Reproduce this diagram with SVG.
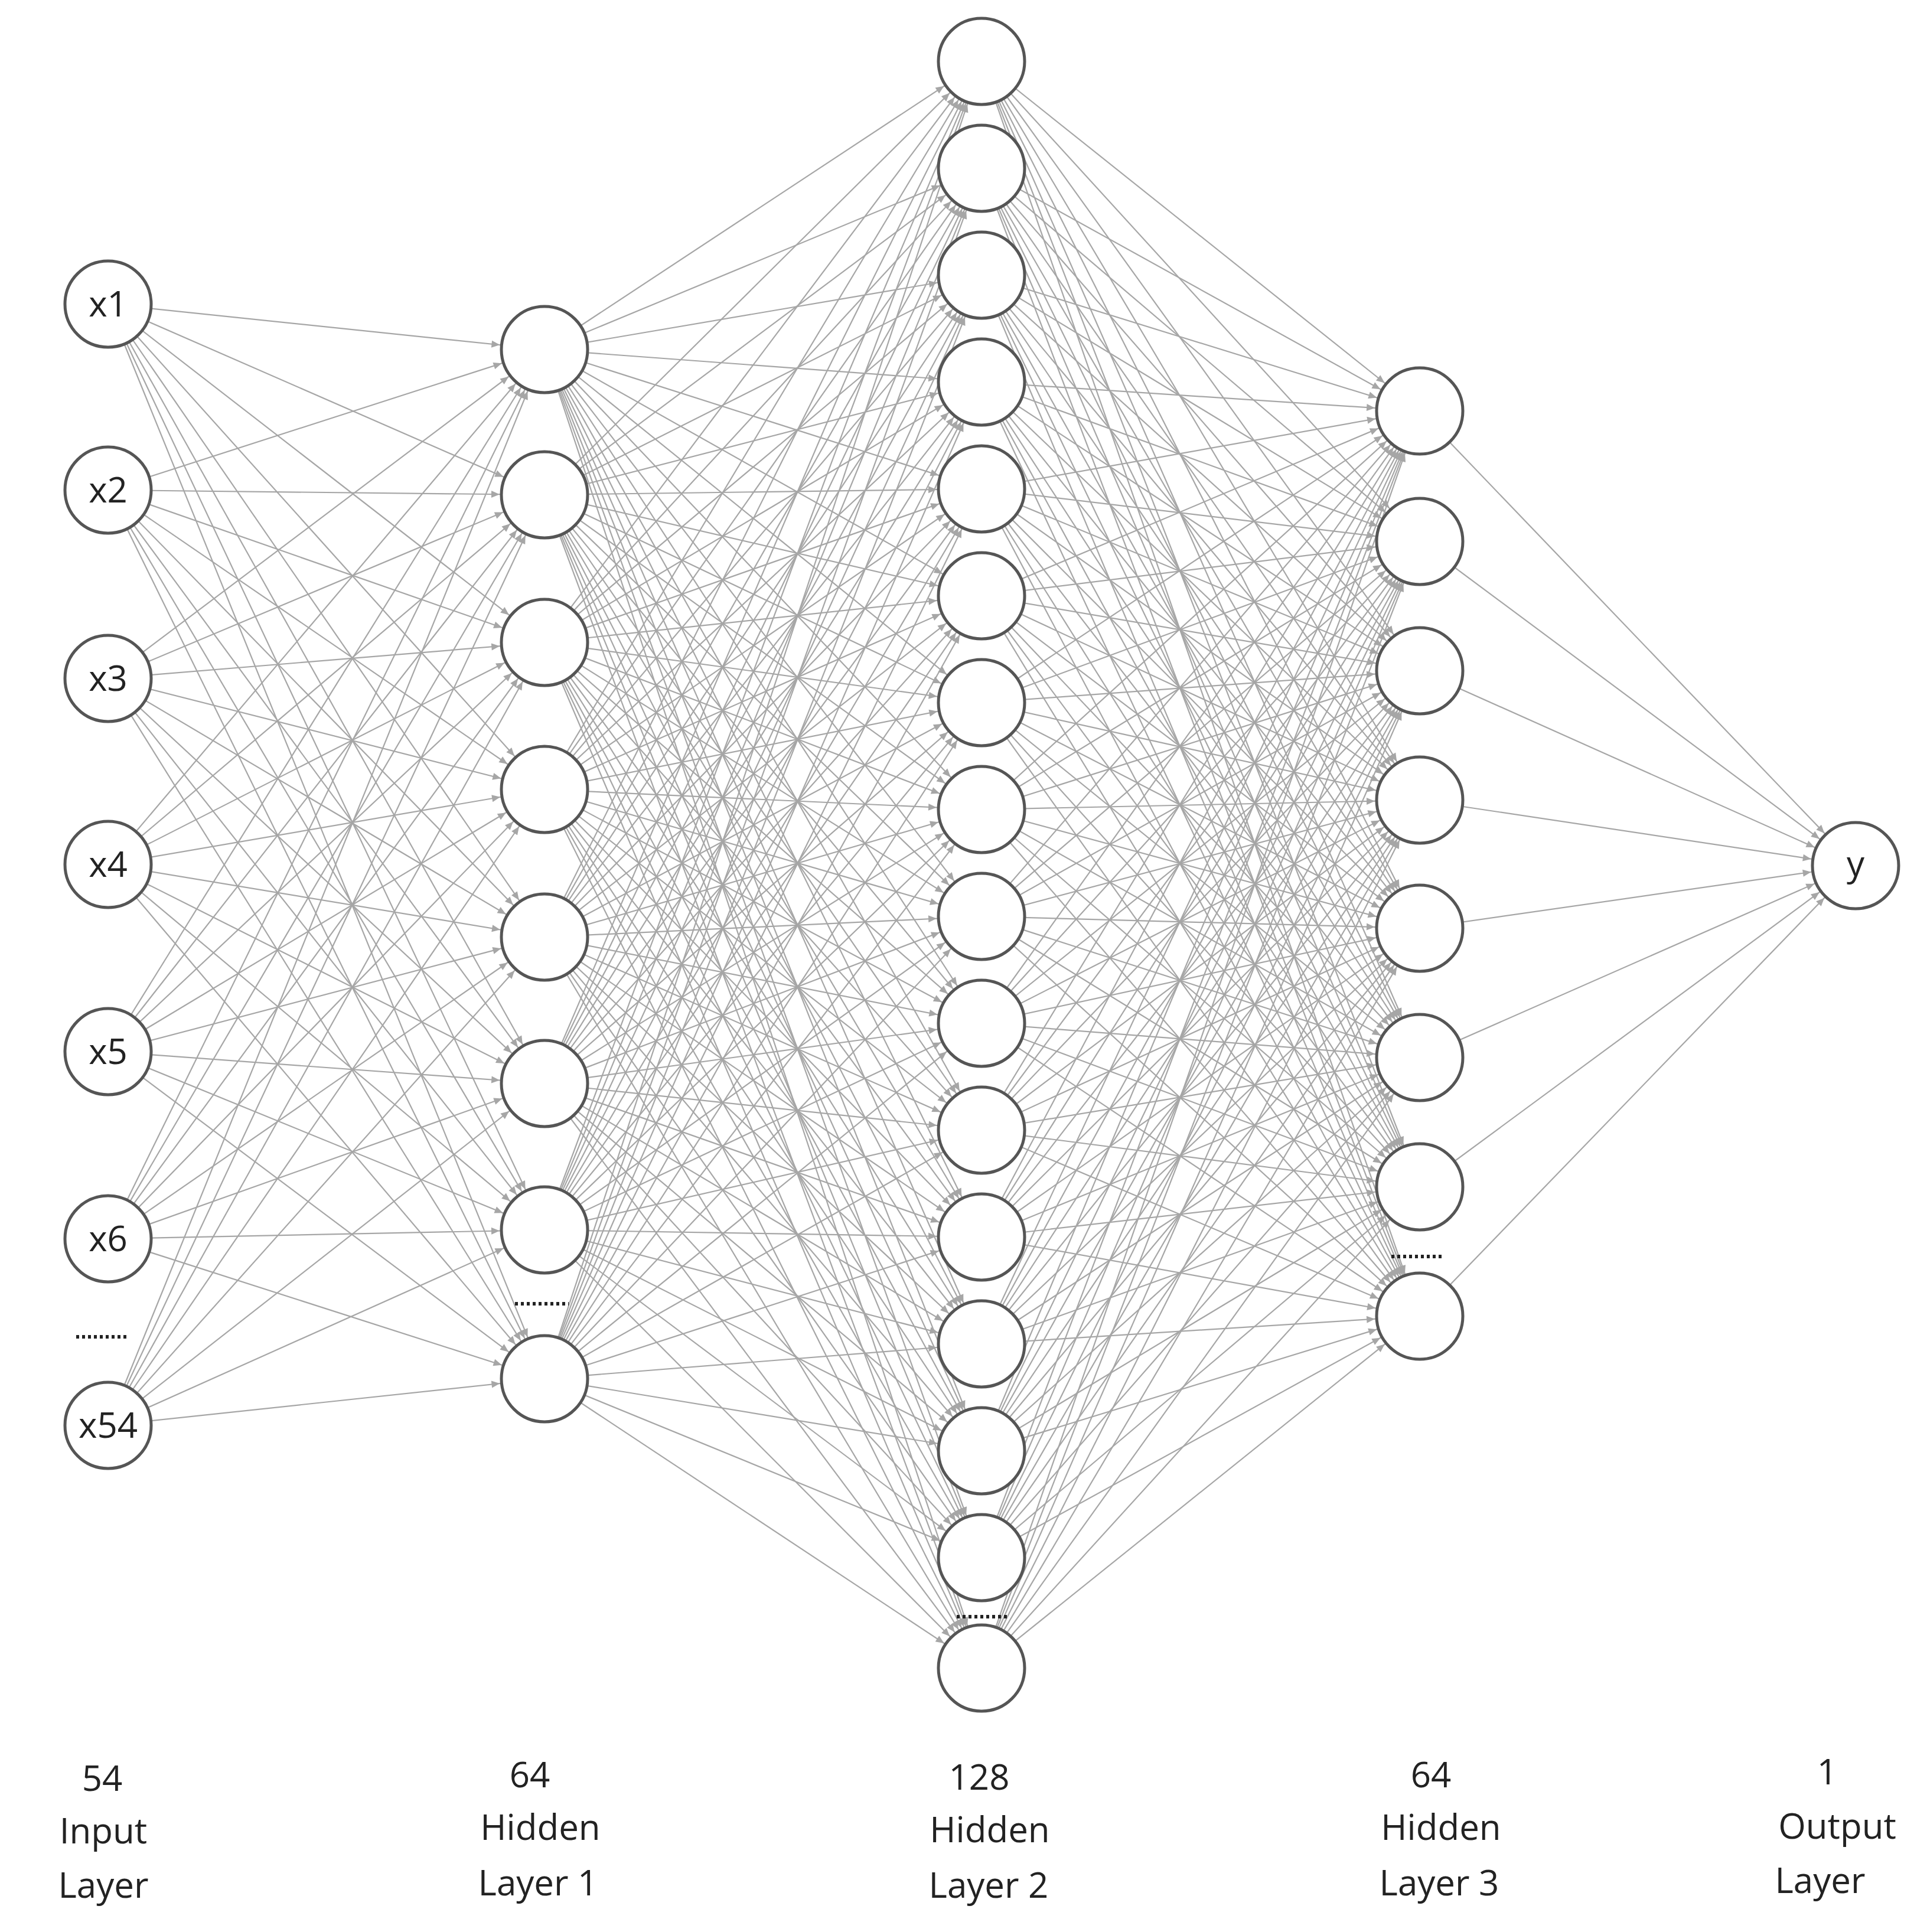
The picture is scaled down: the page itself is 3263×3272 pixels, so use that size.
<svg xmlns="http://www.w3.org/2000/svg" width="3263" height="3272" viewBox="0 0 3263 3272">
<style>
#connectors line{stroke:#a6a6a6;stroke-width:2.2;marker-end:url(#arr)}
.n{fill:#fff;stroke:#555;stroke-width:5}
.t{font-family:"Open Sans","Liberation Sans",sans-serif;font-size:60px;fill:#222;text-anchor:middle}
.dots{stroke:#222;stroke-width:6;stroke-dasharray:5 5}
</style>
<defs>
<marker id="arr" markerUnits="userSpaceOnUse" viewBox="-100 -10 120 20" refX="0" refY="0" markerWidth="120" markerHeight="20" orient="auto" overflow="visible">
<path d="M-90,-6 L-76,0 L-90,6 Z" fill="#a6a6a6"/>
</marker>
</defs>
<rect width="3263" height="3272" fill="#fff"/>
<g id="connectors">
<line x1="183" y1="515" x2="922" y2="592"/><line x1="183" y1="515" x2="922" y2="838"/><line x1="183" y1="515" x2="922" y2="1088"/><line x1="183" y1="515" x2="922" y2="1337"/><line x1="183" y1="515" x2="922" y2="1587"/><line x1="183" y1="515" x2="922" y2="1835"/><line x1="183" y1="515" x2="922" y2="2083"/><line x1="183" y1="515" x2="922" y2="2335"/>
<line x1="183" y1="830" x2="922" y2="592"/><line x1="183" y1="830" x2="922" y2="838"/><line x1="183" y1="830" x2="922" y2="1088"/><line x1="183" y1="830" x2="922" y2="1337"/><line x1="183" y1="830" x2="922" y2="1587"/><line x1="183" y1="830" x2="922" y2="1835"/><line x1="183" y1="830" x2="922" y2="2083"/><line x1="183" y1="830" x2="922" y2="2335"/>
<line x1="183" y1="1149" x2="922" y2="592"/><line x1="183" y1="1149" x2="922" y2="838"/><line x1="183" y1="1149" x2="922" y2="1088"/><line x1="183" y1="1149" x2="922" y2="1337"/><line x1="183" y1="1149" x2="922" y2="1587"/><line x1="183" y1="1149" x2="922" y2="1835"/><line x1="183" y1="1149" x2="922" y2="2083"/><line x1="183" y1="1149" x2="922" y2="2335"/>
<line x1="183" y1="1464" x2="922" y2="592"/><line x1="183" y1="1464" x2="922" y2="838"/><line x1="183" y1="1464" x2="922" y2="1088"/><line x1="183" y1="1464" x2="922" y2="1337"/><line x1="183" y1="1464" x2="922" y2="1587"/><line x1="183" y1="1464" x2="922" y2="1835"/><line x1="183" y1="1464" x2="922" y2="2083"/><line x1="183" y1="1464" x2="922" y2="2335"/>
<line x1="183" y1="1781" x2="922" y2="592"/><line x1="183" y1="1781" x2="922" y2="838"/><line x1="183" y1="1781" x2="922" y2="1088"/><line x1="183" y1="1781" x2="922" y2="1337"/><line x1="183" y1="1781" x2="922" y2="1587"/><line x1="183" y1="1781" x2="922" y2="1835"/><line x1="183" y1="1781" x2="922" y2="2083"/><line x1="183" y1="1781" x2="922" y2="2335"/>
<line x1="183" y1="2098" x2="922" y2="592"/><line x1="183" y1="2098" x2="922" y2="838"/><line x1="183" y1="2098" x2="922" y2="1088"/><line x1="183" y1="2098" x2="922" y2="1337"/><line x1="183" y1="2098" x2="922" y2="1587"/><line x1="183" y1="2098" x2="922" y2="1835"/><line x1="183" y1="2098" x2="922" y2="2083"/><line x1="183" y1="2098" x2="922" y2="2335"/>
<line x1="183" y1="2414" x2="922" y2="592"/><line x1="183" y1="2414" x2="922" y2="838"/><line x1="183" y1="2414" x2="922" y2="1088"/><line x1="183" y1="2414" x2="922" y2="1337"/><line x1="183" y1="2414" x2="922" y2="1587"/><line x1="183" y1="2414" x2="922" y2="1835"/><line x1="183" y1="2414" x2="922" y2="2083"/><line x1="183" y1="2414" x2="922" y2="2335"/>

<line x1="922" y1="592" x2="1662" y2="104"/><line x1="922" y1="592" x2="1662" y2="285"/><line x1="922" y1="592" x2="1662" y2="466"/><line x1="922" y1="592" x2="1662" y2="647"/><line x1="922" y1="592" x2="1662" y2="828"/><line x1="922" y1="592" x2="1662" y2="1009"/><line x1="922" y1="592" x2="1662" y2="1190"/><line x1="922" y1="592" x2="1662" y2="1371"/><line x1="922" y1="592" x2="1662" y2="1552"/><line x1="922" y1="592" x2="1662" y2="1733"/><line x1="922" y1="592" x2="1662" y2="1914"/><line x1="922" y1="592" x2="1662" y2="2095"/><line x1="922" y1="592" x2="1662" y2="2276"/><line x1="922" y1="592" x2="1662" y2="2457"/><line x1="922" y1="592" x2="1662" y2="2638"/><line x1="922" y1="592" x2="1662" y2="2825"/>
<line x1="922" y1="838" x2="1662" y2="104"/><line x1="922" y1="838" x2="1662" y2="285"/><line x1="922" y1="838" x2="1662" y2="466"/><line x1="922" y1="838" x2="1662" y2="647"/><line x1="922" y1="838" x2="1662" y2="828"/><line x1="922" y1="838" x2="1662" y2="1009"/><line x1="922" y1="838" x2="1662" y2="1190"/><line x1="922" y1="838" x2="1662" y2="1371"/><line x1="922" y1="838" x2="1662" y2="1552"/><line x1="922" y1="838" x2="1662" y2="1733"/><line x1="922" y1="838" x2="1662" y2="1914"/><line x1="922" y1="838" x2="1662" y2="2095"/><line x1="922" y1="838" x2="1662" y2="2276"/><line x1="922" y1="838" x2="1662" y2="2457"/><line x1="922" y1="838" x2="1662" y2="2638"/><line x1="922" y1="838" x2="1662" y2="2825"/>
<line x1="922" y1="1088" x2="1662" y2="104"/><line x1="922" y1="1088" x2="1662" y2="285"/><line x1="922" y1="1088" x2="1662" y2="466"/><line x1="922" y1="1088" x2="1662" y2="647"/><line x1="922" y1="1088" x2="1662" y2="828"/><line x1="922" y1="1088" x2="1662" y2="1009"/><line x1="922" y1="1088" x2="1662" y2="1190"/><line x1="922" y1="1088" x2="1662" y2="1371"/><line x1="922" y1="1088" x2="1662" y2="1552"/><line x1="922" y1="1088" x2="1662" y2="1733"/><line x1="922" y1="1088" x2="1662" y2="1914"/><line x1="922" y1="1088" x2="1662" y2="2095"/><line x1="922" y1="1088" x2="1662" y2="2276"/><line x1="922" y1="1088" x2="1662" y2="2457"/><line x1="922" y1="1088" x2="1662" y2="2638"/><line x1="922" y1="1088" x2="1662" y2="2825"/>
<line x1="922" y1="1337" x2="1662" y2="104"/><line x1="922" y1="1337" x2="1662" y2="285"/><line x1="922" y1="1337" x2="1662" y2="466"/><line x1="922" y1="1337" x2="1662" y2="647"/><line x1="922" y1="1337" x2="1662" y2="828"/><line x1="922" y1="1337" x2="1662" y2="1009"/><line x1="922" y1="1337" x2="1662" y2="1190"/><line x1="922" y1="1337" x2="1662" y2="1371"/><line x1="922" y1="1337" x2="1662" y2="1552"/><line x1="922" y1="1337" x2="1662" y2="1733"/><line x1="922" y1="1337" x2="1662" y2="1914"/><line x1="922" y1="1337" x2="1662" y2="2095"/><line x1="922" y1="1337" x2="1662" y2="2276"/><line x1="922" y1="1337" x2="1662" y2="2457"/><line x1="922" y1="1337" x2="1662" y2="2638"/><line x1="922" y1="1337" x2="1662" y2="2825"/>
<line x1="922" y1="1587" x2="1662" y2="104"/><line x1="922" y1="1587" x2="1662" y2="285"/><line x1="922" y1="1587" x2="1662" y2="466"/><line x1="922" y1="1587" x2="1662" y2="647"/><line x1="922" y1="1587" x2="1662" y2="828"/><line x1="922" y1="1587" x2="1662" y2="1009"/><line x1="922" y1="1587" x2="1662" y2="1190"/><line x1="922" y1="1587" x2="1662" y2="1371"/><line x1="922" y1="1587" x2="1662" y2="1552"/><line x1="922" y1="1587" x2="1662" y2="1733"/><line x1="922" y1="1587" x2="1662" y2="1914"/><line x1="922" y1="1587" x2="1662" y2="2095"/><line x1="922" y1="1587" x2="1662" y2="2276"/><line x1="922" y1="1587" x2="1662" y2="2457"/><line x1="922" y1="1587" x2="1662" y2="2638"/><line x1="922" y1="1587" x2="1662" y2="2825"/>
<line x1="922" y1="1835" x2="1662" y2="104"/><line x1="922" y1="1835" x2="1662" y2="285"/><line x1="922" y1="1835" x2="1662" y2="466"/><line x1="922" y1="1835" x2="1662" y2="647"/><line x1="922" y1="1835" x2="1662" y2="828"/><line x1="922" y1="1835" x2="1662" y2="1009"/><line x1="922" y1="1835" x2="1662" y2="1190"/><line x1="922" y1="1835" x2="1662" y2="1371"/><line x1="922" y1="1835" x2="1662" y2="1552"/><line x1="922" y1="1835" x2="1662" y2="1733"/><line x1="922" y1="1835" x2="1662" y2="1914"/><line x1="922" y1="1835" x2="1662" y2="2095"/><line x1="922" y1="1835" x2="1662" y2="2276"/><line x1="922" y1="1835" x2="1662" y2="2457"/><line x1="922" y1="1835" x2="1662" y2="2638"/><line x1="922" y1="1835" x2="1662" y2="2825"/>
<line x1="922" y1="2083" x2="1662" y2="104"/><line x1="922" y1="2083" x2="1662" y2="285"/><line x1="922" y1="2083" x2="1662" y2="466"/><line x1="922" y1="2083" x2="1662" y2="647"/><line x1="922" y1="2083" x2="1662" y2="828"/><line x1="922" y1="2083" x2="1662" y2="1009"/><line x1="922" y1="2083" x2="1662" y2="1190"/><line x1="922" y1="2083" x2="1662" y2="1371"/><line x1="922" y1="2083" x2="1662" y2="1552"/><line x1="922" y1="2083" x2="1662" y2="1733"/><line x1="922" y1="2083" x2="1662" y2="1914"/><line x1="922" y1="2083" x2="1662" y2="2095"/><line x1="922" y1="2083" x2="1662" y2="2276"/><line x1="922" y1="2083" x2="1662" y2="2457"/><line x1="922" y1="2083" x2="1662" y2="2638"/><line x1="922" y1="2083" x2="1662" y2="2825"/>
<line x1="922" y1="2335" x2="1662" y2="104"/><line x1="922" y1="2335" x2="1662" y2="285"/><line x1="922" y1="2335" x2="1662" y2="466"/><line x1="922" y1="2335" x2="1662" y2="647"/><line x1="922" y1="2335" x2="1662" y2="828"/><line x1="922" y1="2335" x2="1662" y2="1009"/><line x1="922" y1="2335" x2="1662" y2="1190"/><line x1="922" y1="2335" x2="1662" y2="1371"/><line x1="922" y1="2335" x2="1662" y2="1552"/><line x1="922" y1="2335" x2="1662" y2="1733"/><line x1="922" y1="2335" x2="1662" y2="1914"/><line x1="922" y1="2335" x2="1662" y2="2095"/><line x1="922" y1="2335" x2="1662" y2="2276"/><line x1="922" y1="2335" x2="1662" y2="2457"/><line x1="922" y1="2335" x2="1662" y2="2638"/><line x1="922" y1="2335" x2="1662" y2="2825"/>

<line x1="1662" y1="104" x2="2404" y2="696"/><line x1="1662" y1="104" x2="2404" y2="917"/><line x1="1662" y1="104" x2="2404" y2="1136"/><line x1="1662" y1="104" x2="2404" y2="1355"/><line x1="1662" y1="104" x2="2404" y2="1572"/><line x1="1662" y1="104" x2="2404" y2="1791"/><line x1="1662" y1="104" x2="2404" y2="2010"/><line x1="1662" y1="104" x2="2404" y2="2229"/>
<line x1="1662" y1="285" x2="2404" y2="696"/><line x1="1662" y1="285" x2="2404" y2="917"/><line x1="1662" y1="285" x2="2404" y2="1136"/><line x1="1662" y1="285" x2="2404" y2="1355"/><line x1="1662" y1="285" x2="2404" y2="1572"/><line x1="1662" y1="285" x2="2404" y2="1791"/><line x1="1662" y1="285" x2="2404" y2="2010"/><line x1="1662" y1="285" x2="2404" y2="2229"/>
<line x1="1662" y1="466" x2="2404" y2="696"/><line x1="1662" y1="466" x2="2404" y2="917"/><line x1="1662" y1="466" x2="2404" y2="1136"/><line x1="1662" y1="466" x2="2404" y2="1355"/><line x1="1662" y1="466" x2="2404" y2="1572"/><line x1="1662" y1="466" x2="2404" y2="1791"/><line x1="1662" y1="466" x2="2404" y2="2010"/><line x1="1662" y1="466" x2="2404" y2="2229"/>
<line x1="1662" y1="647" x2="2404" y2="696"/><line x1="1662" y1="647" x2="2404" y2="917"/><line x1="1662" y1="647" x2="2404" y2="1136"/><line x1="1662" y1="647" x2="2404" y2="1355"/><line x1="1662" y1="647" x2="2404" y2="1572"/><line x1="1662" y1="647" x2="2404" y2="1791"/><line x1="1662" y1="647" x2="2404" y2="2010"/><line x1="1662" y1="647" x2="2404" y2="2229"/>
<line x1="1662" y1="828" x2="2404" y2="696"/><line x1="1662" y1="828" x2="2404" y2="917"/><line x1="1662" y1="828" x2="2404" y2="1136"/><line x1="1662" y1="828" x2="2404" y2="1355"/><line x1="1662" y1="828" x2="2404" y2="1572"/><line x1="1662" y1="828" x2="2404" y2="1791"/><line x1="1662" y1="828" x2="2404" y2="2010"/><line x1="1662" y1="828" x2="2404" y2="2229"/>
<line x1="1662" y1="1009" x2="2404" y2="696"/><line x1="1662" y1="1009" x2="2404" y2="917"/><line x1="1662" y1="1009" x2="2404" y2="1136"/><line x1="1662" y1="1009" x2="2404" y2="1355"/><line x1="1662" y1="1009" x2="2404" y2="1572"/><line x1="1662" y1="1009" x2="2404" y2="1791"/><line x1="1662" y1="1009" x2="2404" y2="2010"/><line x1="1662" y1="1009" x2="2404" y2="2229"/>
<line x1="1662" y1="1190" x2="2404" y2="696"/><line x1="1662" y1="1190" x2="2404" y2="917"/><line x1="1662" y1="1190" x2="2404" y2="1136"/><line x1="1662" y1="1190" x2="2404" y2="1355"/><line x1="1662" y1="1190" x2="2404" y2="1572"/><line x1="1662" y1="1190" x2="2404" y2="1791"/><line x1="1662" y1="1190" x2="2404" y2="2010"/><line x1="1662" y1="1190" x2="2404" y2="2229"/>
<line x1="1662" y1="1371" x2="2404" y2="696"/><line x1="1662" y1="1371" x2="2404" y2="917"/><line x1="1662" y1="1371" x2="2404" y2="1136"/><line x1="1662" y1="1371" x2="2404" y2="1355"/><line x1="1662" y1="1371" x2="2404" y2="1572"/><line x1="1662" y1="1371" x2="2404" y2="1791"/><line x1="1662" y1="1371" x2="2404" y2="2010"/><line x1="1662" y1="1371" x2="2404" y2="2229"/>
<line x1="1662" y1="1552" x2="2404" y2="696"/><line x1="1662" y1="1552" x2="2404" y2="917"/><line x1="1662" y1="1552" x2="2404" y2="1136"/><line x1="1662" y1="1552" x2="2404" y2="1355"/><line x1="1662" y1="1552" x2="2404" y2="1572"/><line x1="1662" y1="1552" x2="2404" y2="1791"/><line x1="1662" y1="1552" x2="2404" y2="2010"/><line x1="1662" y1="1552" x2="2404" y2="2229"/>
<line x1="1662" y1="1733" x2="2404" y2="696"/><line x1="1662" y1="1733" x2="2404" y2="917"/><line x1="1662" y1="1733" x2="2404" y2="1136"/><line x1="1662" y1="1733" x2="2404" y2="1355"/><line x1="1662" y1="1733" x2="2404" y2="1572"/><line x1="1662" y1="1733" x2="2404" y2="1791"/><line x1="1662" y1="1733" x2="2404" y2="2010"/><line x1="1662" y1="1733" x2="2404" y2="2229"/>
<line x1="1662" y1="1914" x2="2404" y2="696"/><line x1="1662" y1="1914" x2="2404" y2="917"/><line x1="1662" y1="1914" x2="2404" y2="1136"/><line x1="1662" y1="1914" x2="2404" y2="1355"/><line x1="1662" y1="1914" x2="2404" y2="1572"/><line x1="1662" y1="1914" x2="2404" y2="1791"/><line x1="1662" y1="1914" x2="2404" y2="2010"/><line x1="1662" y1="1914" x2="2404" y2="2229"/>
<line x1="1662" y1="2095" x2="2404" y2="696"/><line x1="1662" y1="2095" x2="2404" y2="917"/><line x1="1662" y1="2095" x2="2404" y2="1136"/><line x1="1662" y1="2095" x2="2404" y2="1355"/><line x1="1662" y1="2095" x2="2404" y2="1572"/><line x1="1662" y1="2095" x2="2404" y2="1791"/><line x1="1662" y1="2095" x2="2404" y2="2010"/><line x1="1662" y1="2095" x2="2404" y2="2229"/>
<line x1="1662" y1="2276" x2="2404" y2="696"/><line x1="1662" y1="2276" x2="2404" y2="917"/><line x1="1662" y1="2276" x2="2404" y2="1136"/><line x1="1662" y1="2276" x2="2404" y2="1355"/><line x1="1662" y1="2276" x2="2404" y2="1572"/><line x1="1662" y1="2276" x2="2404" y2="1791"/><line x1="1662" y1="2276" x2="2404" y2="2010"/><line x1="1662" y1="2276" x2="2404" y2="2229"/>
<line x1="1662" y1="2457" x2="2404" y2="696"/><line x1="1662" y1="2457" x2="2404" y2="917"/><line x1="1662" y1="2457" x2="2404" y2="1136"/><line x1="1662" y1="2457" x2="2404" y2="1355"/><line x1="1662" y1="2457" x2="2404" y2="1572"/><line x1="1662" y1="2457" x2="2404" y2="1791"/><line x1="1662" y1="2457" x2="2404" y2="2010"/><line x1="1662" y1="2457" x2="2404" y2="2229"/>
<line x1="1662" y1="2638" x2="2404" y2="696"/><line x1="1662" y1="2638" x2="2404" y2="917"/><line x1="1662" y1="2638" x2="2404" y2="1136"/><line x1="1662" y1="2638" x2="2404" y2="1355"/><line x1="1662" y1="2638" x2="2404" y2="1572"/><line x1="1662" y1="2638" x2="2404" y2="1791"/><line x1="1662" y1="2638" x2="2404" y2="2010"/><line x1="1662" y1="2638" x2="2404" y2="2229"/>
<line x1="1662" y1="2825" x2="2404" y2="696"/><line x1="1662" y1="2825" x2="2404" y2="917"/><line x1="1662" y1="2825" x2="2404" y2="1136"/><line x1="1662" y1="2825" x2="2404" y2="1355"/><line x1="1662" y1="2825" x2="2404" y2="1572"/><line x1="1662" y1="2825" x2="2404" y2="1791"/><line x1="1662" y1="2825" x2="2404" y2="2010"/><line x1="1662" y1="2825" x2="2404" y2="2229"/>

<line x1="2404" y1="696" x2="3142" y2="1466"/><line x1="2404" y1="917" x2="3142" y2="1466"/><line x1="2404" y1="1136" x2="3142" y2="1466"/><line x1="2404" y1="1355" x2="3142" y2="1466"/><line x1="2404" y1="1572" x2="3142" y2="1466"/><line x1="2404" y1="1791" x2="3142" y2="1466"/><line x1="2404" y1="2010" x2="3142" y2="1466"/><line x1="2404" y1="2229" x2="3142" y2="1466"/>
</g>
<g id="input">
<g id="x1"><circle class="n" cx="183" cy="515" r="73"/><text class="t" x="183" y="536">x1</text></g>
<g id="x2"><circle class="n" cx="183" cy="830" r="73"/><text class="t" x="183" y="851">x2</text></g>
<g id="x3"><circle class="n" cx="183" cy="1149" r="73"/><text class="t" x="183" y="1170">x3</text></g>
<g id="x4"><circle class="n" cx="183" cy="1464" r="73"/><text class="t" x="183" y="1485">x4</text></g>
<g id="x5"><circle class="n" cx="183" cy="1781" r="73"/><text class="t" x="183" y="1802">x5</text></g>
<g id="x6"><circle class="n" cx="183" cy="2098" r="73"/><text class="t" x="183" y="2119">x6</text></g>
<g id="x54"><circle class="n" cx="183" cy="2414" r="73"/><text class="t" x="183" y="2435">x54</text></g>
<line class="dots" x1="129" y1="2264" x2="219" y2="2264"/>
</g>
<g id="hidden1">
<g id="h1_1"><circle class="n" cx="922" cy="592" r="73"/></g>
<g id="h1_2"><circle class="n" cx="922" cy="838" r="73"/></g>
<g id="h1_3"><circle class="n" cx="922" cy="1088" r="73"/></g>
<g id="h1_4"><circle class="n" cx="922" cy="1337" r="73"/></g>
<g id="h1_5"><circle class="n" cx="922" cy="1587" r="73"/></g>
<g id="h1_6"><circle class="n" cx="922" cy="1835" r="73"/></g>
<g id="h1_7"><circle class="n" cx="922" cy="2083" r="73"/></g>
<g id="h1_8"><circle class="n" cx="922" cy="2335" r="73"/></g>
<line class="dots" x1="872" y1="2208" x2="963" y2="2208"/>
</g>
<g id="hidden2">
<g id="h2_1"><circle class="n" cx="1662" cy="104" r="73"/></g>
<g id="h2_2"><circle class="n" cx="1662" cy="285" r="73"/></g>
<g id="h2_3"><circle class="n" cx="1662" cy="466" r="73"/></g>
<g id="h2_4"><circle class="n" cx="1662" cy="647" r="73"/></g>
<g id="h2_5"><circle class="n" cx="1662" cy="828" r="73"/></g>
<g id="h2_6"><circle class="n" cx="1662" cy="1009" r="73"/></g>
<g id="h2_7"><circle class="n" cx="1662" cy="1190" r="73"/></g>
<g id="h2_8"><circle class="n" cx="1662" cy="1371" r="73"/></g>
<g id="h2_9"><circle class="n" cx="1662" cy="1552" r="73"/></g>
<g id="h2_10"><circle class="n" cx="1662" cy="1733" r="73"/></g>
<g id="h2_11"><circle class="n" cx="1662" cy="1914" r="73"/></g>
<g id="h2_12"><circle class="n" cx="1662" cy="2095" r="73"/></g>
<g id="h2_13"><circle class="n" cx="1662" cy="2276" r="73"/></g>
<g id="h2_14"><circle class="n" cx="1662" cy="2457" r="73"/></g>
<g id="h2_15"><circle class="n" cx="1662" cy="2638" r="73"/></g>
<g id="h2_16"><circle class="n" cx="1662" cy="2825" r="73"/></g>
<line class="dots" x1="1620" y1="2738" x2="1710" y2="2738"/>
</g>
<g id="hidden3">
<g id="h3_1"><circle class="n" cx="2404" cy="696" r="73"/></g>
<g id="h3_2"><circle class="n" cx="2404" cy="917" r="73"/></g>
<g id="h3_3"><circle class="n" cx="2404" cy="1136" r="73"/></g>
<g id="h3_4"><circle class="n" cx="2404" cy="1355" r="73"/></g>
<g id="h3_5"><circle class="n" cx="2404" cy="1572" r="73"/></g>
<g id="h3_6"><circle class="n" cx="2404" cy="1791" r="73"/></g>
<g id="h3_7"><circle class="n" cx="2404" cy="2010" r="73"/></g>
<g id="h3_8"><circle class="n" cx="2404" cy="2229" r="73"/></g>
<line class="dots" x1="2356" y1="2128" x2="2446" y2="2128"/>
</g>
<g id="output"><circle class="n" cx="3142" cy="1466" r="73"/><text class="t" x="3142" y="1484">y</text></g>
<g id="labels">
<text class="t" x="173" y="3033">54</text><text class="t" x="175" y="3122">Input</text><text class="t" x="175" y="3214">Layer</text>
<text class="t" x="897" y="3027">64</text><text class="t" x="915" y="3116">Hidden</text><text class="t" x="911" y="3210">Layer 1</text>
<text class="t" x="1658" y="3031">128</text><text class="t" x="1676" y="3120">Hidden</text><text class="t" x="1674" y="3214">Layer 2</text>
<text class="t" x="2423" y="3027">64</text><text class="t" x="2440" y="3116">Hidden</text><text class="t" x="2437" y="3210">Layer 3</text>
<text class="t" x="3094" y="3022">1</text><text class="t" x="3111" y="3114">Output</text><text class="t" x="3082" y="3206">Layer</text>
</g>
</svg>
